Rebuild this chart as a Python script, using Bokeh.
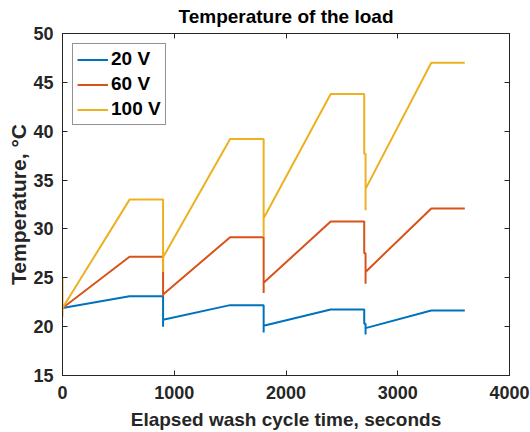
from bokeh.plotting import figure
from bokeh.models import LinearAxis, Legend, LegendItem, Range1d, FixedTicker, CustomLabelingPolicy
from bokeh.embed import file_html
from bokeh.resources import INLINE

# Load temperature traces for three supply voltages (time in s, temperature in degC)
t_20v = [0, 600, 900, 900, 900, 1500, 1800, 1800, 1800, 2400, 2700, 2700, 2712, 2712, 2712, 3300, 3600]
temp_20v = [21.9, 23.1, 23.1, 20.0, 20.7, 22.2, 22.2, 19.4, 20.1, 21.75, 21.75, 20.3, 20.3, 19.2, 19.85, 21.65, 21.65]

t_60v = [0, 600, 900, 900, 900, 1500, 1800, 1800, 1800, 2400, 2700, 2700, 2712, 2712, 2712, 3300, 3600]
temp_60v = [21.9, 27.15, 27.15, 23.1, 23.3, 29.15, 29.15, 23.45, 24.5, 30.75, 30.75, 27.5, 27.5, 24.4, 25.6, 32.1, 32.1]

t_100v = [0, 0, 0, 600, 900, 900, 900, 1500, 1800, 1800, 1800, 2400, 2700, 2700, 2712, 2712, 2712, 3300, 3600]
temp_100v = [21.0, 25.0, 21.9, 33.0, 33.0, 25.6, 27.1, 39.2, 39.2, 29.2, 31.1, 43.8, 43.8, 37.7, 37.7, 31.9, 34.1, 47.0, 47.0]

series_names = ["20 V", "60 V", "100 V"]
x_ticks = [0, 1000, 2000, 3000, 4000]
y_ticks = [15, 20, 25, 30, 35, 40, 45, 50]

FONT = "Liberation Sans"
INK = "#262626"
COLORS = ["#0072BD", "#D95319", "#EDB120"]

p = figure(width=530, height=432, output_backend="svg", toolbar_location=None,
           x_range=Range1d(0, 4000), y_range=Range1d(15, 50),
           min_border_left=62, min_border_right=21, min_border_top=33,
           min_border_bottom=56)

p.title.text = "Temperature of the load"
p.title.align = "center"
p.title.vertical_align = "top"
p.title.text_font = FONT
p.title.text_font_size = "19px"
p.title.text_font_style = "bold"
p.title.text_color = "black"
p.title.standoff = 10

p.xgrid.visible = False
p.ygrid.visible = False
p.outline_line_color = INK
p.background_fill_color = "white"
p.border_fill_color = "white"

# box axes on top/right carry ticks only, no labels
no_labels = CustomLabelingPolicy(code="""
    const all = [...indices]
    for (const i of all) indices.unset(i)
    return indices
""")

def style_axis(ax, ticks, labels=True):
    ax.ticker = FixedTicker(ticks=ticks)
    ax.axis_line_color = INK
    ax.major_tick_line_color = INK
    ax.major_tick_in = 5
    ax.major_tick_out = 0
    ax.minor_tick_line_color = None
    ax.major_label_text_font = FONT
    ax.major_label_text_font_style = "bold"
    ax.major_label_text_color = INK
    ax.major_label_text_font_size = "18px"
    if not labels:
        ax.major_label_policy = no_labels
        ax.major_label_text_font_size = "0px"
        ax.major_label_standoff = 0
    ax.axis_label_text_font = FONT
    ax.axis_label_text_font_style = "bold"
    ax.axis_label_text_font_size = "19px"
    ax.axis_label_text_color = INK

style_axis(p.xaxis[0], x_ticks)
style_axis(p.yaxis[0], y_ticks)
p.xaxis[0].axis_label = "Elapsed wash cycle time, seconds"
p.yaxis[0].axis_label = "Temperature, \u00b0C"
p.yaxis[0].axis_label_text_font_size = "21px"
p.xaxis[0].major_label_standoff = 10
p.yaxis[0].major_label_standoff = 9
p.xaxis[0].axis_label_standoff = 7
p.yaxis[0].axis_label_standoff = 0

top_axis = LinearAxis()
style_axis(top_axis, x_ticks, labels=False)
p.add_layout(top_axis, "above")

right_axis = LinearAxis()
style_axis(right_axis, y_ticks, labels=False)
p.add_layout(right_axis, "right")

renderers = []
for ts, vs, c in [(t_20v, temp_20v, COLORS[0]), (t_60v, temp_60v, COLORS[1]), (t_100v, temp_100v, COLORS[2])]:
    r = p.line(ts, vs, line_color=c, line_width=2)
    renderers.append(r)

legend = Legend(items=[LegendItem(label=n, renderers=[r]) for n, r in zip(series_names, renderers)],
                location="top_left")
legend.label_text_font = FONT
legend.label_text_font_style = "bold"
legend.label_text_font_size = "19px"
legend.label_text_color = "black"
legend.border_line_color = INK
legend.border_line_width = 1
legend.background_fill_color = "white"
legend.background_fill_alpha = 1
legend.glyph_width = 31
legend.glyph_height = 21
legend.label_height = 21
legend.label_standoff = 3
legend.spacing = 3
legend.padding = 4
legend.margin = 10
p.add_layout(legend)

open("out.html", "w").write(file_html(p, INLINE))
